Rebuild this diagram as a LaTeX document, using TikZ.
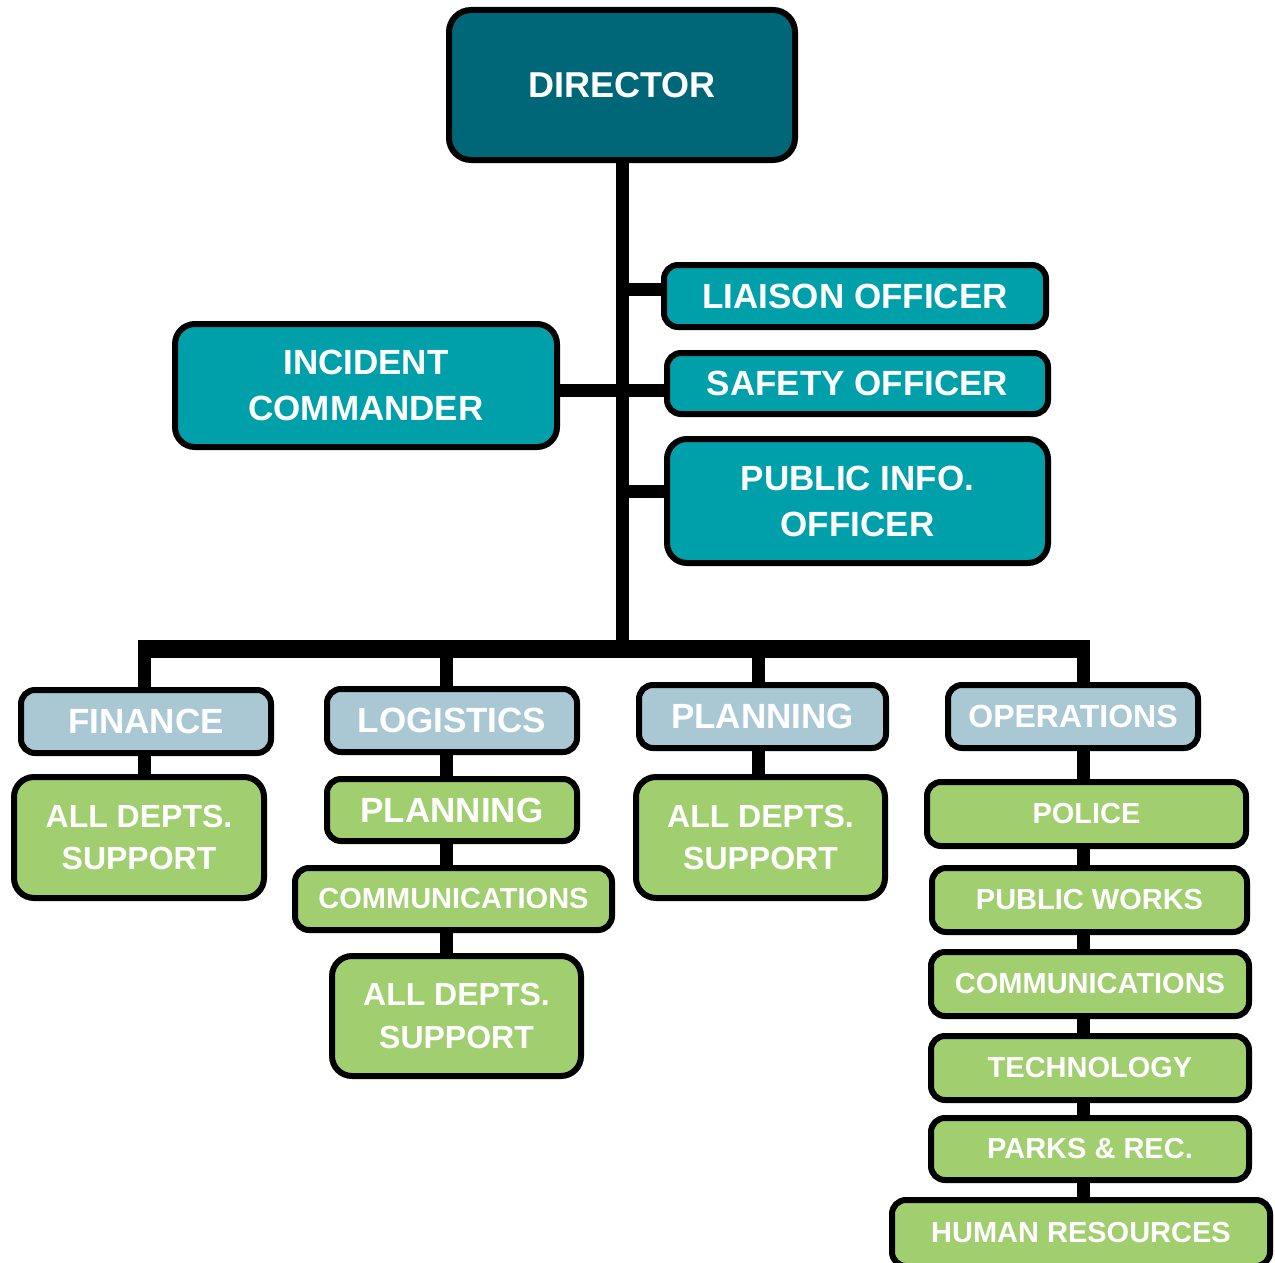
\documentclass[tikz,border=0pt]{standalone}
\usepackage{fontspec}
\setmainfont{Liberation Sans}
\usetikzlibrary{backgrounds}
\definecolor{dirc}{RGB}{0,103,120}
\definecolor{tealc}{RGB}{0,160,170}
\definecolor{secc}{RGB}{170,200,212}
\definecolor{grnc}{RGB}{161,206,110}
\begin{document}
\begin{tikzpicture}[x=1pt,y=-1pt,
  box/.style={draw=black, line width=6pt, text=white, align=center, inner sep=0pt, rounded corners=14pt},
  big/.style={rounded corners=20pt},
  dirbox/.style={box, fill=dirc, rounded corners=22pt},
  tealbox/.style={box, fill=tealc},
  secbox/.style={box, fill=secc},
  grnbox/.style={box, fill=grnc},
  fA/.style={font=\bfseries\fontsize{36}{43}\selectfont},
  fB/.style={font=\bfseries\fontsize{35}{46}\selectfont},
  fC/.style={font=\bfseries\fontsize{32}{42.5}\selectfont},
  fD/.style={font=\bfseries\fontsize{29}{35}\selectfont},
  conn/.style={line width=13pt, draw=black},
  mainbar/.style={line width=18pt, draw=black}]
\useasboundingbox (0,0) rectangle (1275,1263);

% top
\node[dirbox, fA, minimum width=346pt, minimum height=150pt] (dir) at (622,85) {DIRECTOR};
\node[tealbox, fB, minimum width=382pt, minimum height=62pt] (lia) at (855,296) {LIAISON OFFICER};
\node[tealbox, fB, big, minimum width=382pt, minimum height=123pt] (ic) at (366,385.5) {INCIDENT\\COMMANDER};
\node[tealbox, fB, minimum width=381pt, minimum height=61pt] (saf) at (857.5,383.5) {SAFETY OFFICER};
\node[tealbox, fB, big, minimum width=381pt, minimum height=124pt] (pio) at (857.5,501) {PUBLIC INFO.\\OFFICER};

% sections
\node[secbox, fB, minimum width=250pt, minimum height=63pt] (fin) at (146,721.5) {FINANCE};
\node[secbox, fB, minimum width=250pt, minimum height=63pt] (log) at (452,720.5) {LOGISTICS};
\node[secbox, fB, minimum width=247pt, minimum height=63pt] (pla) at (762.5,716.5) {PLANNING};
\node[secbox, fC, minimum width=250pt, minimum height=63pt] (ops) at (1073,716.5) {OPERATIONS};

% finance
\node[grnbox, fC, big, minimum width=250pt, minimum height=121pt] (finsup) at (139,837.5) {ALL DEPTS.\\SUPPORT};
% logistics
\node[grnbox, fB, minimum width=250pt, minimum height=62pt] (logpla) at (452,810) {PLANNING};
\node[grnbox, fD, minimum width=317pt, minimum height=62pt] (logcom) at (453.5,899) {COMMUNICATIONS};
\node[grnbox, fC, big, minimum width=249pt, minimum height=120pt] (logsup) at (456.5,1016) {ALL DEPTS.\\SUPPORT};
% planning
\node[grnbox, fC, big, minimum width=249pt, minimum height=121pt] (plasup) at (760.5,837.5) {ALL DEPTS.\\SUPPORT};
% operations
\node[grnbox, fD, minimum width=319pt, minimum height=64pt] (pol) at (1086.5,814) {POLICE};
\node[grnbox, fD, minimum width=315pt, minimum height=64pt] (pw) at (1089.5,900) {PUBLIC WORKS};
\node[grnbox, fD, minimum width=318pt, minimum height=64pt] (opscom) at (1090,984) {COMMUNICATIONS};
\node[grnbox, fD, minimum width=318pt, minimum height=64pt] (tech) at (1090,1068) {TECHNOLOGY};
\node[grnbox, fD, minimum width=318pt, minimum height=62pt] (parks) at (1090,1149) {PARKS \& REC.};
\node[grnbox, fD, minimum width=378pt, minimum height=66pt] (hr) at (1081,1233) {HUMAN RESOURCES};

\begin{scope}[on background layer]
  \coordinate (bar) at (622,649);
  \coordinate (dF) at (144,649);
  \coordinate (dL) at (446,649);
  \coordinate (dP) at (758,649);
  \coordinate (dO) at (1083,649);
  \coordinate (yL) at (0,289);
  \coordinate (yS) at (0,390);
  \coordinate (yP) at (0,491);
  \draw[conn] (dir.south) -- (dir.south |- bar);
  \draw[mainbar] ([xshift=-6.5pt]dF) -- ([xshift=6.5pt]dO);
  \draw[conn] (dir.south |- yL) -- (lia.west |- yL);
  \draw[conn] (ic.east |- yS) -- (saf.west |- yS);
  \draw[conn] (dir.south |- yP) -- (pio.west |- yP);
  % finance
  \draw[conn] (dF) -- (fin.north -| dF);
  \draw[conn] (fin.south -| dF) -- (finsup.north -| dF);
  % logistics
  \draw[conn] (dL) -- (log.north -| dL);
  \draw[conn] (log.south -| dL) -- (logpla.north -| dL);
  \draw[conn] (logpla.south -| dL) -- (logcom.north -| dL);
  \draw[conn] (logcom.south -| dL) -- (logsup.north -| dL);
  % planning
  \draw[conn] (dP) -- (pla.north -| dP);
  \draw[conn] (pla.south -| dP) -- (plasup.north -| dP);
  % operations
  \draw[conn] (dO) -- (ops.north -| dO);
  \draw[conn] (ops.south -| dO) -- (pol.north -| dO);
  \draw[conn] (pol.south -| dO) -- (pw.north -| dO);
  \draw[conn] (pw.south -| dO) -- (opscom.north -| dO);
  \draw[conn] (opscom.south -| dO) -- (tech.north -| dO);
  \draw[conn] (tech.south -| dO) -- (parks.north -| dO);
  \draw[conn] (parks.south -| dO) -- (hr.north -| dO);
\end{scope}
\end{tikzpicture}
\end{document}
